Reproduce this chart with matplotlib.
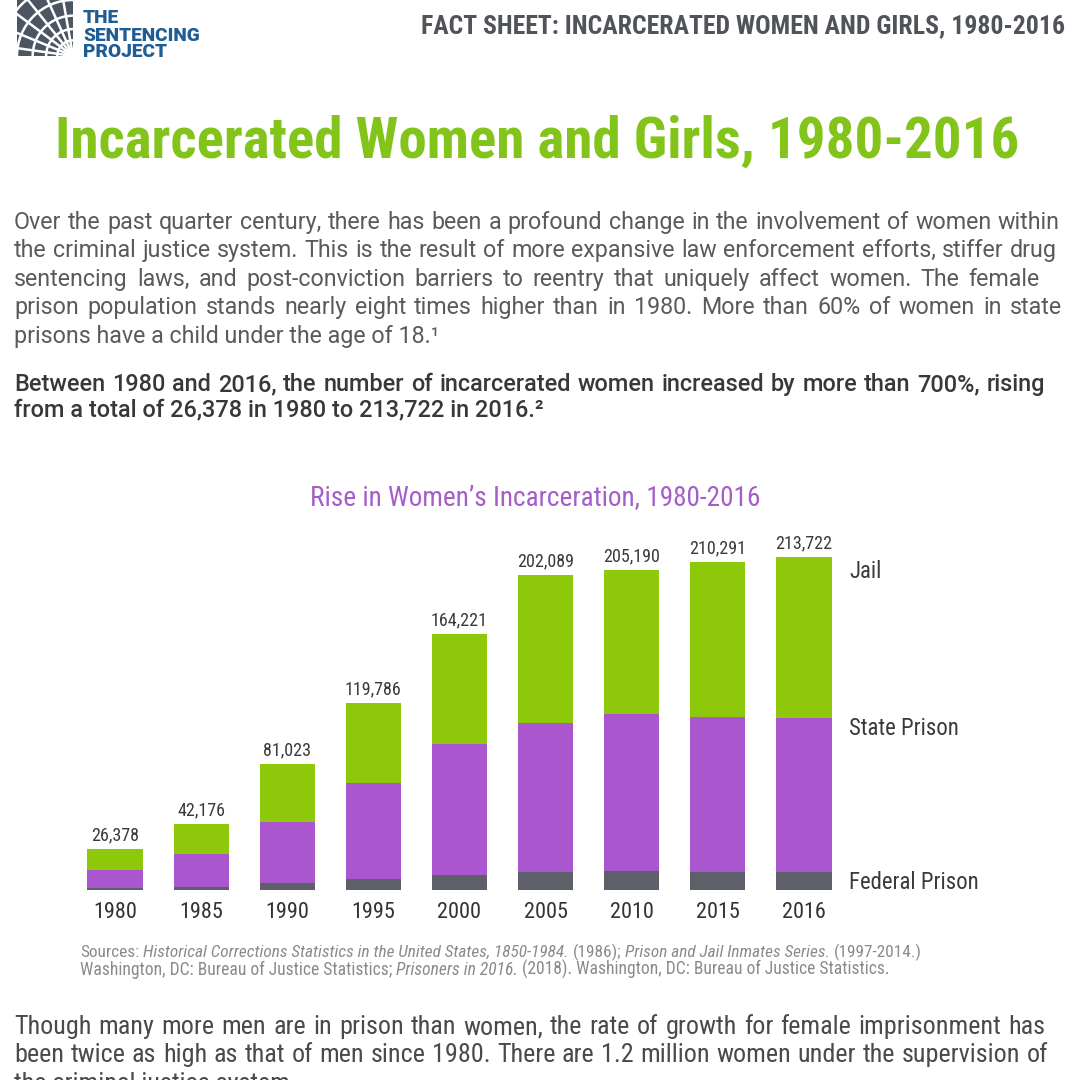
import matplotlib
matplotlib.use('Agg')
import matplotlib.pyplot as plt
from matplotlib import font_manager as fm
from matplotlib.patches import Rectangle, Circle
import numpy as np

# ---------------- data ----------------
years = ['1980', '1985', '1990', '1995', '2000', '2005', '2010', '2015', '2016']
federal = [1300, 2000, 4500, 7000, 9600, 11500, 12200, 11600, 11600]
state = [11500, 21100, 39100, 61600, 84000, 95700, 100800, 99400, 98700]
jail = [13578, 19076, 37423, 51186, 70621, 94889, 92190, 99291, 103422]
total_labels = ['26,378', '42,176', '81,023', '119,786', '164,221',
                '202,089', '205,190', '210,291', '213,722']
series_names = ['Jail', 'State Prison', 'Federal Prison']

# ---------------- fonts ----------------
names = {f.name for f in fm.fontManager.ttflist}


def pick(*cands):
    for c in cands:
        if c in names:
            return c
    return 'DejaVu Sans'


COND = pick('Roboto Condensed', 'Liberation Sans Narrow', 'Roboto')
BODY = pick('Roboto', 'Open Sans', 'Lato')

GREEN = '#8dc90a'
PURPLE = '#aa56cf'
DARK = '#5e6069'

fig = plt.figure(figsize=(10.8, 10.8), dpi=100)
fig.patch.set_facecolor('white')
R = fig.canvas.get_renderer()


def txt(x, y, s, **kw):
    kw.setdefault('va', 'baseline')
    return fig.text(x / 1080, 1 - y / 1080, s, **kw)


def wid(t):
    return t.get_window_extent(renderer=R).width


def fit(x, y, s, w, **kw):
    t = txt(x, y, s, fontsize=20, **kw)
    t.set_fontsize(20 * w / wid(t))
    return t


def fit_size(s, w, **kw):
    t = txt(0, 0, s, fontsize=20, **kw)
    size = 20 * w / wid(t)
    t.remove()
    return size


def justify(x0, x1, y, line, size, **kw):
    words = line.split(' ')
    ts = [txt(x0, y, w_, fontsize=size, ha='left', **kw) for w_ in words]
    ws = [wid(t) for t in ts]
    gap = (x1 - x0 - sum(ws)) / max(len(words) - 1, 1)
    x = x0
    for t, w_ in zip(ts, ws):
        t.set_x(x / 1080)
        x += w_ + gap


def space_w(size, **kw):
    a = txt(0, 0, 'x x', fontsize=size, **kw)
    b = txt(0, 0, 'xx', fontsize=size, **kw)
    s = wid(a) - wid(b)
    a.remove(); b.remove()
    return s


def runs(x, y, parts, target, **kw):
    def total(size, draw):
        xx = x
        sw = space_w(size, **kw)
        for s, style in parts:
            lead = len(s) - len(s.lstrip(' '))
            xx += lead * sw
            t = txt(xx, y, s.strip(' '), fontsize=size, style=style, ha='left', **kw)
            xx += wid(t)
            if not draw:
                t.remove()
        return xx - x
    w0 = total(10, False)
    total(10 * target / w0, True)


# ---------------- logo ----------------
lax = fig.add_axes([17 / 1080, 1 - 56 / 1080, 56 / 1080, 56 / 1080])
lax.set_xlim(0, 1); lax.set_ylim(0, 1); lax.axis('off')
sq = Rectangle((0, 0), 1, 1, facecolor='#4b5662', edgecolor='none')
lax.add_patch(sq)
px, py = 1.0, 0.0
for ang in np.linspace(100, 172, 6):
    a = np.radians(ang)
    ln, = lax.plot([px, px + 2 * np.cos(a)], [py, py + 2 * np.sin(a)],
                   color='white', lw=1.8, solid_capstyle='butt')
    ln.set_clip_path(sq)
for r in [0.28, 0.48, 0.72, 1.0, 1.3]:
    c = Circle((px, py), r, facecolor='none', edgecolor='white', lw=1.8)
    lax.add_patch(c)
    c.set_clip_path(sq)
for s, yb in zip(['THE', 'SENTENCING', 'PROJECT'], [23, 41, 57]):
    t = txt(83, yb, s, fontsize=11, fontweight='heavy', family=BODY, color='#1f5d94')
lsz = fit_size('SENTENCING', 117, fontweight='heavy', family=BODY)
for t in fig.texts[-3:]:
    t.set_fontsize(lsz)

# ---------------- header & titles ----------------
fit(1065, 33, 'FACT SHEET: INCARCERATED WOMEN AND GIRLS, 1980-2016', 644,
    ha='right', family=COND, fontweight='bold', color='#505459')
fit(55, 158, 'Incarcerated Women and Girls, 1980-2016', 963,
    ha='left', family=COND, fontweight='bold', color='#83c41b')

# ---------------- paragraph 1 ----------------
p1 = ["Over the past quarter century, there has been a profound change in the involvement of women within",
      "the criminal justice system. This is the result of more expansive law enforcement efforts, stiffer drug",
      "sentencing laws, and post-conviction barriers to reentry that uniquely affect women. The female",
      "prison population stands nearly eight times higher than in 1980. More than 60% of women in state",
      "prisons have a child under the age of 18.\u00b9"]
p1_ends = [1060, 1057, 1040, 1062]
p1_base = [229, 257, 286, 314, 343]
kw1 = dict(family=BODY, fontweight='normal', color='#5a5a5a')
s1 = fit_size(p1[1], 1030, **kw1)
for i, line in enumerate(p1):
    if i < 4:
        justify(14, p1_ends[i], p1_base[i], line, s1, **kw1)
    else:
        txt(14, p1_base[i], line, fontsize=s1, ha='left', **kw1)

# ---------------- paragraph 2 ----------------
p2 = ["Between 1980 and 2016, the number of incarcerated women increased by more than 700%, rising",
      "from a total of 26,378 in 1980 to 213,722 in 2016.\u00b2"]
kw2 = dict(family=BODY, fontweight='medium', color='#383838')
s2 = fit_size(p2[0], 1020, **kw2)
justify(14, 1045, 391, p2[0], s2, **kw2)
txt(14, 416, p2[1], fontsize=s2, ha='left', **kw2)

# ---------------- chart ----------------
fit(310, 505, "Rise in Women\u2019s Incarceration, 1980-2016", 451,
    ha='left', family=COND, color='#a55ec9')

ax = fig.add_axes([72 / 1080, 1 - 890 / 1080, 775 / 1080, 350 / 1080])
x = np.arange(len(years))
fed = np.array(federal); st = np.array(state); jl = np.array(jail)
ax.bar(x, fed, width=0.64, color=DARK, edgecolor='none')
ax.bar(x, st, width=0.64, bottom=fed, color=PURPLE, edgecolor='none')
ax.bar(x, jl, width=0.64, bottom=fed + st, color=GREEN, edgecolor='none')
tops = fed + st + jl
for i, lbl in enumerate(total_labels):
    ax.annotate(lbl, (x[i], tops[i]), xytext=(0, 3.5), textcoords='offset points',
                ha='center', va='bottom', fontsize=13, family=COND, color='#3a3a3a')
ax.set_xlim(-0.5, 8.5)
ax.set_ylim(0, 224600)
ax.set_xticks(x)
ax.set_xticklabels(years, fontsize=16, family=COND, color='#333333')
ax.tick_params(axis='x', length=0, pad=9)
ax.set_yticks([])
for sp in ax.spines.values():
    sp.set_visible(False)
ax.patch.set_alpha(0)

rs = fit_size(series_names[2], 129, family=COND)
for name, yb in zip(series_names, [578, 735, 889]):
    txt(849, yb, name, fontsize=rs, ha='left', family=COND, color='#3a3a3a')

# ---------------- sources ----------------
kws = dict(family=COND, color='#8a8a8a')
runs(80, 957, [("Sources:", 'normal'),
               (" Historical Corrections Statistics in the United States, 1850-1984.", 'italic'),
               (" (1986);", 'normal'),
               (" Prison and Jail Inmates Series.", 'italic'),
               (" (1997-2014.)", 'normal')], 840, **kws)
runs(80, 975, [("Washington, DC: Bureau of Justice Statistics;", 'normal'),
               (" Prisoners in 2016.", 'italic'),
               (" (2018). Washington, DC: Bureau of Justice Statistics.", 'normal')], 804, **kws)

# ---------------- bottom paragraph ----------------
p3 = ["Though many more men are in prison than women, the rate of growth for female imprisonment has",
      "been twice as high as that of men since 1980. There are 1.2 million women under the supervision of",
      "the criminal justice system."]
kw3 = dict(family=COND, color='#4a4a4a')
s3 = fit_size(p3[1], 1025, **kw3)
justify(14, 1045, 1034, p3[0], s3, **kw3)
justify(14, 1048, 1062, p3[1], s3, **kw3)
txt(14, 1091, p3[2], fontsize=s3, ha='left', **kw3)

fig.savefig('out.png', dpi=100, facecolor='white')
